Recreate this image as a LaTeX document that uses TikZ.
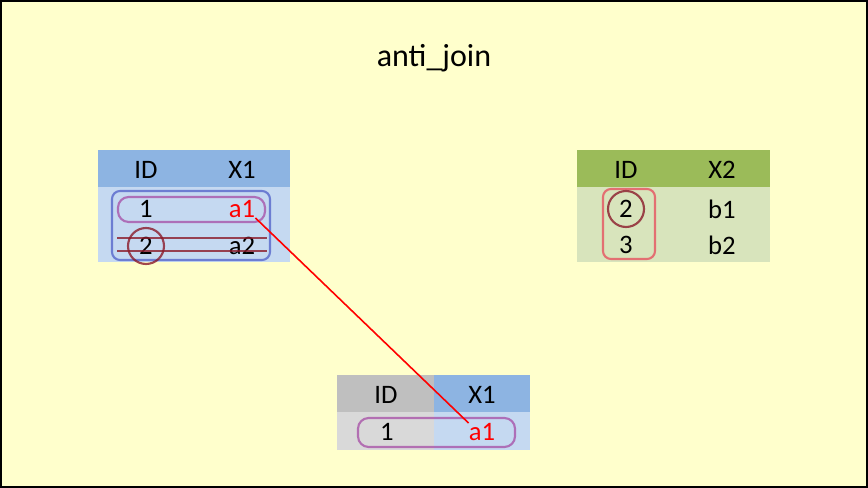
\documentclass[tikz,border=0pt]{standalone}
\usepackage{fontspec}
\setmainfont{Carlito}
\definecolor{bg}{HTML}{FFFFCC}
\definecolor{hdrblue}{HTML}{8DB4E2}
\definecolor{bodyblue}{HTML}{C5D9F1}
\definecolor{hdrgreen}{HTML}{9BBB59}
\definecolor{bodygreen}{HTML}{D8E4BC}
\definecolor{hdrgray}{HTML}{BFBFBF}
\definecolor{bodygray}{HTML}{D9D9D9}
\definecolor{penpurple}{HTML}{A64CA6}
\definecolor{penblue}{HTML}{4F5FC8}
\definecolor{pendark}{HTML}{8B1A2A}
\definecolor{penred}{HTML}{E8485A}
\begin{document}
\begin{tikzpicture}[x=0.75pt,y=-0.75pt,
  cell/.style={inner sep=0pt, font=\fontsize{20}{24}\selectfont},
  redcell/.style={cell, text=red},
  title/.style={inner sep=0pt, font=\fontsize{24}{28}\selectfont},
  pen/.style={line width=1.6pt, opacity=0.75, rounded corners=6pt},
  link/.style={red, line width=1.2pt}
]
% background and frame
\useasboundingbox (0,0) rectangle (868,488);
\fill[bg] (0,0) rectangle (868,488);
\draw[black, line width=1.5pt] (1,1) rectangle (867,487);

\node[title] (title) at (434,58) {anti\_join};

% ---- table 1
\fill[hdrblue] (98,150) rectangle (290,187);
\fill[bodyblue] (98,187) rectangle (290,262);
\node[cell] (t1h1) at (146,170) {ID};
\node[cell] (t1h2) at (242,170) {X1};
\node[cell] (t1r1c1) at (146,209) {1};
\node[redcell] (t1a1) at (242,209) {a1};
\node[cell] (t1r2c1) at (146,246) {2};
\node[cell] (t1r2c2) at (242,246) {a2};

% ---- table 2
\fill[hdrgreen] (577,150) rectangle (770,187);
\fill[bodygreen] (577,187) rectangle (770,262);
\node[cell] (t2h1) at (626,170) {ID};
\node[cell] (t2h2) at (722,170) {X2};
\node[cell] (t2r1c1) at (626,209) {2};
\node[cell] (t2r1c2) at (722,209) {b1};
\node[cell] (t2r2c1) at (626,245) {3};
\node[cell] (t2r2c2) at (722,245) {b2};

% ---- table 3
\fill[hdrgray] (337,375) rectangle (434,412);
\fill[hdrblue] (434,375) rectangle (530,412);
\fill[bodygray] (337,412) rectangle (434,450);
\fill[bodyblue] (434,412) rectangle (530,450);
\node[cell] (t3h1) at (386,395) {ID};
\node[cell] (t3h2) at (482,395) {X1};
\node[cell] (t3r1c1) at (387,432) {1};
\node[redcell] (t3a1) at (482,432) {a1};

% ---- hand-drawn marks
\draw[pen, penblue] (112,191) rectangle (270,260);
\draw[pen, penpurple, rounded corners=8pt] (118,197) rectangle (265,222);
\draw[pendark, line width=1.4pt, opacity=0.8] (117,238) -- (267,238);
\draw[pendark, line width=1.4pt, opacity=0.8] (117,251) -- (267,251);
\draw[pendark, line width=1.6pt, opacity=0.8] (t1r2c1) circle (18);

\draw[pen, penred] (603,189) rectangle (655,259);
\draw[pendark, line width=1.6pt, opacity=0.8] (t2r1c1) circle (18);

\draw[pen, penpurple, rounded corners=8pt] (358,418) rectangle (515,447);

% ---- connector
\draw[link] (t1a1.south east) -- (t3a1.north west);
\end{tikzpicture}
\end{document}
